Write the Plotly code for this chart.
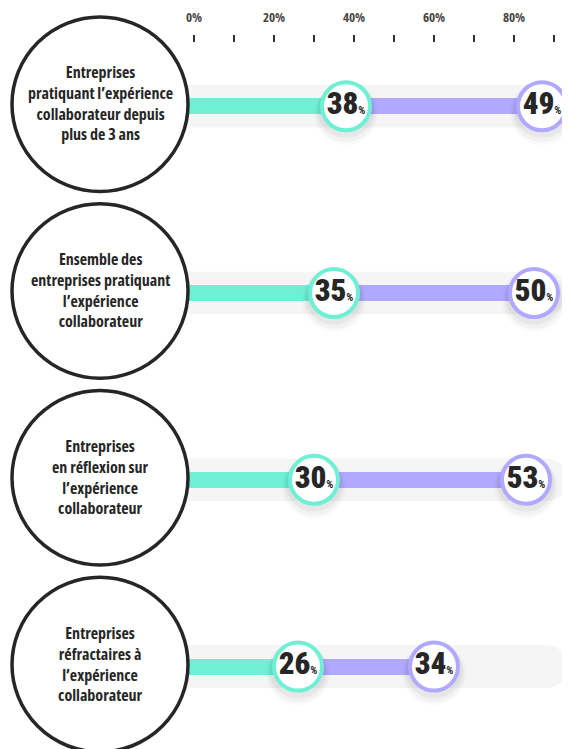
import plotly.graph_objects as go

# ---------------- data ----------------
CATEGORIES = [
    "Entreprises<br>pratiquant l’expérience<br>collaborateur depuis<br>plus de 3 ans",
    "Ensemble des<br>entreprises pratiquant<br>l’expérience<br>collaborateur",
    "Entreprises<br>en réflexion sur<br>l’expérience<br>collaborateur",
    "Entreprises<br>réfractaires à<br>l’expérience<br>collaborateur",
]
SERIES_A = [38, 35, 30, 26]   # teal
SERIES_B = [49, 50, 53, 34]   # purple (stacked after teal)
TICK_VALUES = [0, 10, 20, 30, 40, 50, 60, 70, 80, 90]
TICK_LABELS = ["0%", "", "20%", "", "40%", "", "60%", "", "80%", ""]

# ---------------- style / layout ----------------
OFF = 8                      # page body margin
W, H = 570 - OFF, 749 - OFF
PX_PER_UNIT = 4.0
X0_PX = 194.0 - OFF
X_RANGE = [-X0_PX / PX_PER_UNIT, (W - X0_PX) / PX_PER_UNIT]
TEAL = "#6ff0d5"
PURPLE = "#b1a9ff"
GREY = "#f5f5f5"
DARK = "#262626"
FONT_A = "Open Sans, DejaVu Sans Condensed, sans-serif"
FONT_B = "Roboto, DejaVu Sans Condensed, sans-serif"
ST = "font-stretch:75%"
GROUP_Y0, GROUP_STEP = 101 - OFF, 188.3
BAR_H = 16
BAND_H = 43
BAND_END = (568 - OFF - X0_PX) / PX_PER_UNIT
BAR_START = -3
BIG_R = 88
BIG_CX = 100 - OFF


def px2x(px):
    return (px - X0_PX) / PX_PER_UNIT


def dx(px):
    return px / PX_PER_UNIT


ys = [GROUP_Y0 + i * GROUP_STEP for i in range(len(CATEGORIES))]
ends = [a + b for a, b in zip(SERIES_A, SERIES_B)]

fig = go.Figure()

fig.add_trace(go.Bar(
    orientation="h", y=ys, base=[BAR_START] * len(ys),
    x=[a - BAR_START for a in SERIES_A], width=BAR_H,
    marker=dict(color=TEAL, line=dict(width=0)), hoverinfo="skip",
))
fig.add_trace(go.Bar(
    orientation="h", y=ys, base=SERIES_A, x=SERIES_B, width=BAR_H,
    marker=dict(color=PURPLE, line=dict(width=0)), hoverinfo="skip",
))

bx = SERIES_A + ends
by = ys + ys
for size, alpha, off in [(64, 0.02, 7), (60, 0.03, 6), (56, 0.045, 4)]:
    fig.add_trace(go.Scatter(
        x=bx, y=[v + off for v in by], mode="markers",
        marker=dict(size=size, color=f"rgba(0,0,0,{alpha})", line=dict(width=0)),
        hoverinfo="skip",
    ))


def lab(v):
    return (f"<span style='{ST};font-weight:900'>{v}</span>"
            f"<span style='font-size:11px;{ST};font-weight:700'>%</span>")


for xs, vals, col in [(SERIES_A, SERIES_A, TEAL), (ends, SERIES_B, PURPLE)]:
    fig.add_trace(go.Scatter(
        x=xs, y=ys, mode="markers+text",
        marker=dict(size=48, color="white", line=dict(color=col, width=4)),
        text=[lab(v) for v in vals], textposition="middle center",
        textfont=dict(family=FONT_B, size=31, color=DARK), hoverinfo="skip",
    ))

shapes = []
annotations = []
for y, cat in zip(ys, CATEGORIES):
    r = BAND_H / 2
    shapes.append(dict(type="rect", xref="x", yref="y", layer="below",
                       x0=px2x(170), x1=BAND_END - dx(r), y0=y - r, y1=y + r,
                       fillcolor=GREY, line=dict(width=0)))
    shapes.append(dict(type="circle", xref="x", yref="y", layer="below",
                       x0=BAND_END - 2 * dx(r), x1=BAND_END, y0=y - r, y1=y + r,
                       fillcolor=GREY, line=dict(width=0)))
    cy = y - 2
    shapes.append(dict(type="circle", xref="x", yref="y", layer="above",
                       x0=px2x(BIG_CX - BIG_R), x1=px2x(BIG_CX + BIG_R),
                       y0=cy - BIG_R, y1=cy + BIG_R,
                       fillcolor="white", line=dict(color=DARK, width=3.5)))
    txt = "<br>".join(f"<span style='{ST}'>{ln}</span>" for ln in cat.split("<br>"))
    annotations.append(dict(
        x=px2x(BIG_CX), y=cy - 1, xref="x", yref="y", yanchor="middle",
        text=txt, showarrow=False, align="center",
        font=dict(family=FONT_A, size=16, color=DARK, weight="bold")))

fig.update_layout(
    width=W, height=H, margin=dict(l=0, r=0, t=0, b=0),
    paper_bgcolor="white", plot_bgcolor="white",
    showlegend=False, barmode="overlay", bargap=0,
    shapes=shapes, annotations=annotations,
    xaxis=dict(range=X_RANGE, side="top", anchor="free", position=1 - (36 - OFF) / H,
               tickmode="array", tickvals=TICK_VALUES,
               ticktext=[f"<span style='{ST}'>{t}</span>" if t else "" for t in TICK_LABELS],
               ticks="outside", ticklen=7, tickwidth=1.5, tickcolor="#333",
               ticklabelstandoff=8,
               tickfont=dict(family=FONT_A, size=13, color="#444", weight="bold"),
               showgrid=False, zeroline=False, showline=False, fixedrange=True),
    yaxis=dict(range=[H, 0], visible=False, fixedrange=True),
)

fig.write_html("out.html")
